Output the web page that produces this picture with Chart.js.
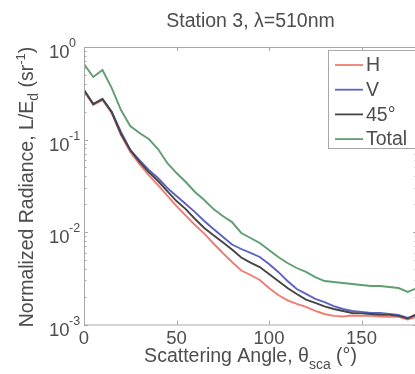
<!DOCTYPE html>
<html>
<head>
	<meta charset="UTF-8">
	<title>Station 3 - Normalized Radiance</title>
	<script src="https://cdn.jsdelivr.net/npm/chart.js"></script>
	<style>
		html, body { margin: 0; padding: 0; overflow: hidden; background: #fff; }
		#wrap { width: 420px; height: 374px; position: relative; }
	</style>
</head>
<body>
	<div id="wrap"><canvas id="radiance-chart"></canvas></div>

	<script>
		// Scattering angle (deg) and normalized radiance L/Ed (1/sr)
		const angles = [0, 5, 10, 15, 20, 25, 30, 35, 40, 45, 50, 55, 60, 65, 70, 75, 80, 85, 90,
			95, 100, 105, 110, 115, 120, 125, 130, 135, 140, 145, 150, 155, 160, 165, 170, 175, 180];
		const hValues = [0.334, 0.236, 0.267, 0.193, 0.1118, 0.0732, 0.0543, 0.0413, 0.0322, 0.0248,
			0.0191, 0.01504, 0.0119, 0.00961, 0.00751, 0.00593, 0.00474, 0.00383, 0.00343, 0.00303,
			0.00248, 0.00208, 0.00182, 0.00167, 0.00155, 0.00140, 0.00130, 0.00124, 0.00122, 0.00125,
			0.00124, 0.00124, 0.00122, 0.00121, 0.00121, 0.00113, 0.00121];
		const vValues = [0.343, 0.242, 0.274, 0.198, 0.1205, 0.0770, 0.0600, 0.0468, 0.0383, 0.0299,
			0.0245, 0.0201, 0.0164, 0.01315, 0.01077, 0.00889, 0.00732, 0.00655, 0.00593, 0.00537,
			0.00451, 0.00370, 0.00295, 0.00242, 0.00214, 0.00189, 0.00175, 0.00158, 0.00147, 0.00140,
			0.00137, 0.00133, 0.00133, 0.00130, 0.00127, 0.00118, 0.00127];
		const d45Values = [0.343, 0.242, 0.274, 0.198, 0.1147, 0.0770, 0.0573, 0.0445, 0.0356, 0.0277,
			0.0216, 0.0177, 0.01382, 0.01105, 0.00921, 0.00774, 0.00647, 0.00530, 0.00466, 0.00418,
			0.00352, 0.00295, 0.00248, 0.00214, 0.00186, 0.00171, 0.00157, 0.00147, 0.00140, 0.00133,
			0.00132, 0.00130, 0.00127, 0.00127, 0.00124, 0.00116, 0.00130];
		const totalValues = [0.655, 0.474, 0.564, 0.360, 0.208, 0.140, 0.1176, 0.1012, 0.0789, 0.0557,
			0.0434, 0.0347, 0.0271, 0.0222, 0.0177, 0.0149, 0.0128, 0.00976, 0.00861, 0.00760,
			0.00639, 0.00537, 0.00462, 0.00408, 0.00370, 0.00326, 0.00295, 0.00288, 0.00281, 0.00274,
			0.00267, 0.00261, 0.00261, 0.00254, 0.00248, 0.00225, 0.00248];

		const seriesLabels = ['H', 'V', '45\u00b0', 'Total'];
		const xTicks = [0, 50, 100, 150];
		const yExponents = [0, -1, -2, -3];

		const FONT = '"Liberation Sans", Arial, sans-serif';
		const TEXT = '#4d4d4d';
		const AXIS = '#a8a8a8';

		function toPoints(vals) {
			return angles.map((a, i) => ({ x: a, y: vals[i] }));
		}

		// draws a run of text pieces (sub/superscripts) one after another
		function drawRuns(ctx, runs, x, y, align) {
			let total = 0;
			runs.forEach(r => {
				ctx.font = r.size + 'px ' + FONT;
				r.w = ctx.measureText(r.t).width;
				total += r.w;
			});
			let cx = align === 'center' ? x - total / 2 : x;
			runs.forEach(r => {
				ctx.font = r.size + 'px ' + FONT;
				ctx.fillText(r.t, cx, y + (r.dy || 0));
				cx += r.w;
			});
		}

		// MATLAB-like box axes, ticks, labels and legend
		const matlabAxes = {
			id: 'matlabAxes',
			afterDraw(chart) {
				const ctx = chart.ctx;
				const area = chart.chartArea;
				const xs = chart.scales.x;
				const ys = chart.scales.y;
				ctx.save();

				// box
				ctx.strokeStyle = AXIS;
				ctx.lineWidth = 1;
				ctx.strokeRect(area.left + 0.5, area.top + 0.5, area.right - area.left, area.bottom - area.top);

				// x ticks (inward, bottom and top)
				ctx.beginPath();
				xTicks.forEach(t => {
					const px = Math.round(xs.getPixelForValue(t)) + 0.5;
					ctx.moveTo(px, area.bottom); ctx.lineTo(px, area.bottom - 4);
					ctx.moveTo(px, area.top); ctx.lineTo(px, area.top + 4);
				});
				// y ticks, majors and minors per decade
				yExponents.forEach(e => {
					for (let k = 1; k <= 9; k++) {
						const v = k * Math.pow(10, e);
						if (v > 1.0001) continue;
						const py = Math.round(ys.getPixelForValue(v)) + 0.5;
						const len = k === 1 ? 4 : 2.5;
						ctx.moveTo(area.left, py); ctx.lineTo(area.left + len, py);
						ctx.moveTo(area.right, py); ctx.lineTo(area.right - len, py);
					}
				});
				ctx.stroke();

				ctx.fillStyle = TEXT;

				// x tick labels
				ctx.textAlign = 'center';
				ctx.textBaseline = 'middle';
				ctx.font = '18.5px ' + FONT;
				xTicks.forEach(t => {
					ctx.fillText(String(t), xs.getPixelForValue(t), area.bottom + 14);
				});

				// y tick labels 10^e
				ctx.textAlign = 'left';
				yExponents.forEach(e => {
					const py = ys.getPixelForValue(Math.pow(10, e));
					ctx.font = '18.5px ' + FONT;
					ctx.fillText('10', 49, py + 6);
					ctx.font = '12.5px ' + FONT;
					ctx.fillText(String(e), 69, py - 3);
				});

				// title
				ctx.textAlign = 'left';
				ctx.textBaseline = 'middle';
				drawRuns(ctx, [{ t: 'Station 3, \u03bb=510nm', size: 19.5 }], (area.left + area.right) / 2, 22, 'center');

				// x axis title
				ctx.textBaseline = 'alphabetic';
				drawRuns(ctx, [
					{ t: 'Scattering Angle, \u03b8', size: 19.5 },
					{ t: 'sca', size: 14, dy: 7 },
					{ t: ' (\u00b0)', size: 19.5 }
				], (area.left + area.right) / 2, 362, 'center');

				// y axis title
				ctx.save();
				ctx.translate(33, 187);
				ctx.rotate(-Math.PI / 2);
				drawRuns(ctx, [
					{ t: 'Normalized Radiance, L/E', size: 19.5 },
					{ t: 'd', size: 14, dy: 5 },
					{ t: ' (sr', size: 19.5 },
					{ t: '-1', size: 13, dy: -8 },
					{ t: ')', size: 19.5 }
				], 0, 0, 'center');
				ctx.restore();

				// legend
				const lx = 328.5, ly = 50.5;
				ctx.fillStyle = '#ffffff';
				ctx.fillRect(lx, ly, 100, 98);
				ctx.strokeStyle = AXIS;
				ctx.strokeRect(lx, ly, 100, 98);
				ctx.font = '19.5px ' + FONT;
				ctx.textBaseline = 'middle';
				chart.data.datasets.forEach((ds, i) => {
					const y = 65 + i * 24.7;
					ctx.strokeStyle = ds.borderColor;
					ctx.lineWidth = 1.8;
					ctx.beginPath();
					ctx.moveTo(335, y); ctx.lineTo(363, y);
					ctx.stroke();
					ctx.fillStyle = TEXT;
					ctx.fillText(ds.label, 366, y + 1);
				});

				ctx.restore();
			}
		};

		const ctx = document.getElementById('radiance-chart').getContext('2d');
		new Chart(ctx, {
			type: 'line',
			data: {
				datasets: [
					{ label: seriesLabels[0], data: toPoints(hValues), borderColor: '#f07c74', order: 3 },
					{ label: seriesLabels[1], data: toPoints(vValues), borderColor: '#5b64c4', order: 2 },
					{ label: seriesLabels[2], data: toPoints(d45Values), borderColor: '#454545', order: 1 },
					{ label: seriesLabels[3], data: toPoints(totalValues), borderColor: '#5f9e72', order: 0 }
				]
			},
			options: {
				responsive: true,
				maintainAspectRatio: false,
				animation: false,
				layout: { padding: { left: 84, top: 47, right: 3, bottom: 49.5 } },
				datasets: {
					line: { borderWidth: 1.9, pointRadius: 0, tension: 0, fill: false }
				},
				scales: {
					x: { type: 'linear', min: 0, max: 180, display: false },
					y: { type: 'logarithmic', min: 0.001, max: 1, display: false }
				},
				plugins: {
					legend: { display: false },
					tooltip: { enabled: false }
				}
			},
			plugins: [matlabAxes]
		});
	</script>
</body>
</html>
